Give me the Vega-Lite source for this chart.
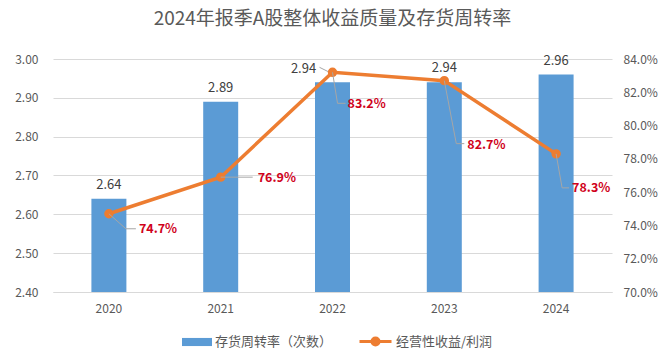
{
  "$schema": "https://vega.github.io/schema/vega-lite/v6.json",
  "width": 559,
  "height": 233,
  "autosize": {"type": "none"},
  "padding": {"left": 53, "top": 59, "right": 56, "bottom": 71},
  "background": "white",
  "title": {
    "text": "2024年报季A股整体收益质量及存货周转率",
    "fontSize": 19,
    "font": "Noto Sans CJK SC",
    "fontWeight": "normal",
    "color": "#595959",
    "anchor": "middle",
    "frame": "group",
    "baseline": "bottom",
    "offset": 5
  },
  "data": {
    "values": [
      {"year": "2020", "turnover": 2.64, "ratio": 0.747},
      {"year": "2021", "turnover": 2.89, "ratio": 0.769},
      {"year": "2022", "turnover": 2.94, "ratio": 0.832},
      {"year": "2023", "turnover": 2.94, "ratio": 0.827},
      {"year": "2024", "turnover": 2.96, "ratio": 0.783}
    ]
  },
  "encoding": {
    "x": {
      "field": "year",
      "type": "nominal",
      "scale": {"paddingInner": 0.687, "paddingOuter": 0.3435},
      "axis": {
        "title": null,
        "labelAngle": 0,
        "ticks": false,
        "domain": true,
        "domainColor": "#d9d9d9",
        "labelPadding": 11,
        "labelColor": "#595959",
        "labelFontSize": 12,
        "labelFont": "Noto Sans CJK SC"
      }
    }
  },
  "layer": [
    {
      "encoding": {
        "y": {
          "field": "turnover",
          "type": "quantitative",
          "scale": {"domain": [2.4, 3.0], "zero": false, "nice": false},
          "axis": {
            "orient": "left",
            "title": null,
            "values": [2.4, 2.5, 2.6, 2.7, 2.8, 2.9, 3.0],
            "format": ".2f",
            "ticks": false,
            "domain": false,
            "grid": true,
            "gridColor": "#d9d9d9",
            "labelPadding": 15,
            "labelColor": "#595959",
            "labelFontSize": 12,
            "labelFont": "Noto Sans CJK SC"
          }
        }
      },
      "layer": [
        {
          "mark": {"type": "bar"},
          "encoding": {
            "y2": {"datum": 2.4},
            "fill": {
              "datum": "存货周转率（次数）",
              "type": "nominal",
              "scale": {"range": ["#5B9BD5"]},
              "legend": {
                "orient": "none",
                "legendX": 129,
                "legendY": 268,
                "title": null,
                "symbolType": "M-1,-0.27H1V0.27H-1Z",
                "symbolSize": 900,
                "symbolStrokeWidth": 0,
                "labelFontSize": 13,
                "labelColor": "#595959",
                "labelFont": "Noto Sans CJK SC",
                "labelOffset": 3
              }
            }
          }
        },
        {
          "transform": [{"filter": "datum.year != '2022'"}],
          "mark": {"type": "text", "dy": -14, "fontSize": 13, "color": "#404040", "baseline": "middle"},
          "encoding": {"text": {"field": "turnover", "format": ".2f"}}
        },
        {
          "transform": [{"filter": "datum.year == '2022'"}],
          "layer": [
            {
              "mark": {"type": "text", "dx": -29, "dy": -13, "fontSize": 13, "color": "#404040", "baseline": "middle"},
              "encoding": {"text": {"field": "turnover", "format": ".2f"}}
            },
            {
              "mark": {"type": "rule", "color": "#A6A6A6", "strokeWidth": 1, "xOffset": -13, "yOffset": -15, "x2Offset": -3, "y2Offset": -10},
              "encoding": {"x2": {"field": "year"}, "y2": {"field": "turnover"}}
            }
          ]
        }
      ]
    },
    {
      "encoding": {
        "y": {
          "field": "ratio",
          "type": "quantitative",
          "scale": {"domain": [0.70, 0.84], "zero": false, "nice": false},
          "axis": {
            "orient": "right",
            "title": null,
            "values": [0.70, 0.72, 0.74, 0.76, 0.78, 0.80, 0.82, 0.84],
            "format": ".1%",
            "ticks": false,
            "domain": false,
            "grid": false,
            "labelPadding": 11,
            "labelColor": "#595959",
            "labelFontSize": 12,
            "labelFont": "Noto Sans CJK SC"
          }
        }
      },
      "layer": [
        {
          "mark": {"type": "line", "strokeWidth": 3.5, "point": {"filled": true, "size": 55, "color": "#ED7D31"}},
          "encoding": {
            "stroke": {
              "datum": "经营性收益/利润",
              "type": "nominal",
              "scale": {"range": ["#ED7D31"]},
              "legend": {
                "orient": "none",
                "legendX": 305,
                "legendY": 265,
                "title": null,
                "symbolType": "M-1,0H1M0.22,0A0.22,0.22,0,1,1,-0.22,0A0.22,0.22,0,1,1,0.22,0Z",
                "symbolSize": 1024,
                "symbolStrokeWidth": 3,
                "symbolFillColor": "#ED7D31",
                "symbolStrokeColor": "#ED7D31",
                "labelFontSize": 13,
                "labelColor": "#595959",
                "labelFont": "Noto Sans CJK SC",
                "labelOffset": 3
              }
            }
          }
        },
        {
          "transform": [{"filter": "datum.year == '2020'"}],
          "layer": [
            {"mark": {"type": "rule", "color": "#A6A6A6", "strokeWidth": 1, "xOffset": 0, "yOffset": 0, "x2Offset": 17, "y2Offset": 15}, "encoding": {"x2": {"field": "year"}, "y2": {"field": "ratio"}}},
            {"mark": {"type": "rule", "color": "#A6A6A6", "strokeWidth": 1, "xOffset": 17, "yOffset": 15, "x2Offset": 27, "y2Offset": 15}, "encoding": {"x2": {"field": "year"}, "y2": {"field": "ratio"}}},
            {"mark": {"type": "text", "align": "left", "baseline": "middle", "dx": 30, "dy": 15, "fontWeight": "bold", "fontSize": 12.5, "color": "#D0021B", "font": "Noto Sans CJK SC"}, "encoding": {"text": {"field": "ratio", "format": ".1%"}}}
          ]
        },
        {
          "transform": [{"filter": "datum.year == '2021'"}],
          "layer": [
            {"mark": {"type": "rule", "color": "#A6A6A6", "strokeWidth": 1, "xOffset": 0, "yOffset": 0, "x2Offset": 32, "y2Offset": 0}, "encoding": {"x2": {"field": "year"}, "y2": {"field": "ratio"}}},
            {"mark": {"type": "text", "align": "left", "baseline": "middle", "dx": 37, "dy": 1, "fontWeight": "bold", "fontSize": 12.5, "color": "#D0021B", "font": "Noto Sans CJK SC"}, "encoding": {"text": {"field": "ratio", "format": ".1%"}}}
          ]
        },
        {
          "transform": [{"filter": "datum.year == '2022'"}],
          "layer": [
            {"mark": {"type": "rule", "color": "#A6A6A6", "strokeWidth": 1, "xOffset": 0, "yOffset": 0, "x2Offset": 5, "y2Offset": 31}, "encoding": {"x2": {"field": "year"}, "y2": {"field": "ratio"}}},
            {"mark": {"type": "rule", "color": "#A6A6A6", "strokeWidth": 1, "xOffset": 5, "yOffset": 31, "x2Offset": 13, "y2Offset": 31}, "encoding": {"x2": {"field": "year"}, "y2": {"field": "ratio"}}},
            {"mark": {"type": "text", "align": "left", "baseline": "middle", "dx": 15, "dy": 32, "fontWeight": "bold", "fontSize": 12.5, "color": "#D0021B", "font": "Noto Sans CJK SC"}, "encoding": {"text": {"field": "ratio", "format": ".1%"}}}
          ]
        },
        {
          "transform": [{"filter": "datum.year == '2023'"}],
          "layer": [
            {"mark": {"type": "rule", "color": "#A6A6A6", "strokeWidth": 1, "xOffset": 0, "yOffset": 0, "x2Offset": 12, "y2Offset": 63}, "encoding": {"x2": {"field": "year"}, "y2": {"field": "ratio"}}},
            {"mark": {"type": "rule", "color": "#A6A6A6", "strokeWidth": 1, "xOffset": 12, "yOffset": 63, "x2Offset": 20, "y2Offset": 63}, "encoding": {"x2": {"field": "year"}, "y2": {"field": "ratio"}}},
            {"mark": {"type": "text", "align": "left", "baseline": "middle", "dx": 23, "dy": 64, "fontWeight": "bold", "fontSize": 12.5, "color": "#D0021B", "font": "Noto Sans CJK SC"}, "encoding": {"text": {"field": "ratio", "format": ".1%"}}}
          ]
        },
        {
          "transform": [{"filter": "datum.year == '2024'"}],
          "layer": [
            {"mark": {"type": "rule", "color": "#A6A6A6", "strokeWidth": 1, "xOffset": 0, "yOffset": 0, "x2Offset": 6, "y2Offset": 34}, "encoding": {"x2": {"field": "year"}, "y2": {"field": "ratio"}}},
            {"mark": {"type": "rule", "color": "#A6A6A6", "strokeWidth": 1, "xOffset": 6, "yOffset": 34, "x2Offset": 13, "y2Offset": 34}, "encoding": {"x2": {"field": "year"}, "y2": {"field": "ratio"}}},
            {"mark": {"type": "text", "align": "left", "baseline": "middle", "dx": 16, "dy": 34, "fontWeight": "bold", "fontSize": 12.5, "color": "#D0021B", "font": "Noto Sans CJK SC"}, "encoding": {"text": {"field": "ratio", "format": ".1%"}}}
          ]
        }
      ]
    }
  ],
  "resolve": {"scale": {"y": "independent"}},
  "config": {"view": {"stroke": null}, "font": "Noto Sans CJK SC"}
}
